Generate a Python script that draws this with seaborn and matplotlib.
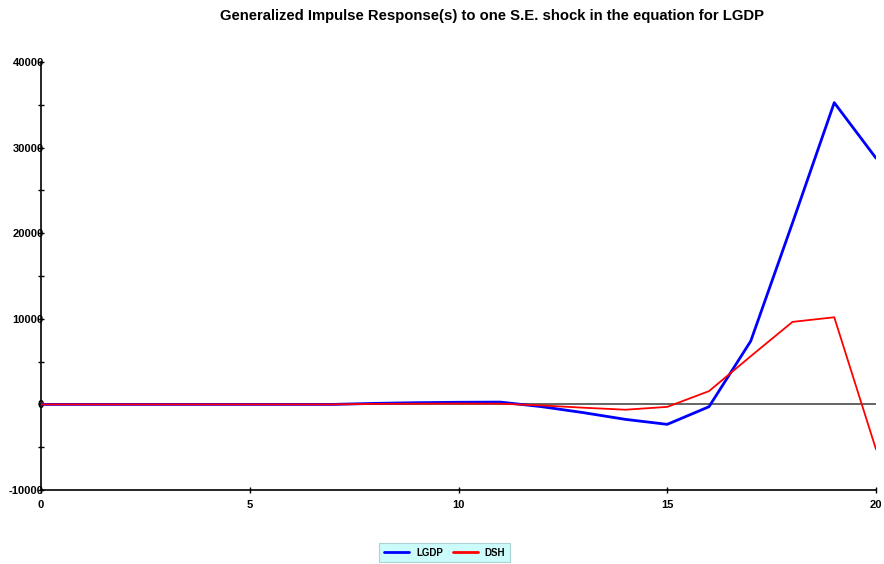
import numpy as np
import pandas as pd
import matplotlib
matplotlib.use("Agg")
import matplotlib.pyplot as plt
import seaborn as sns
from matplotlib.ticker import MultipleLocator

horizon = list(range(21))
lgdp = [0, 0, 0, 0, 0, 0, 0, 0, 120, 200, 250, 270, -270, -970, -1750, -2330,
        -270, 7400, 21200, 35250, 28770]
dsh = [0, 0, 0, 0, 0, 0, 0, 0, 60, 80, 100, 80, -120, -390, -620, -290,
       1550, 5630, 9640, 10180, -5250]
series_names = ["LGDP", "DSH"]
title = "Generalized Impulse Response(s) to one S.E. shock in the equation for LGDP"

df = pd.DataFrame({
    "Horizon": horizon * 2,
    "Value": lgdp + dsh,
    "Series": [series_names[0]] * len(horizon) + [series_names[1]] * len(horizon),
})

sns.set_style("white")
plt.rcParams['font.family'] = ['Liberation Sans', 'DejaVu Sans']
plt.rcParams['axes.unicode_minus'] = False
plt.rcParams['text.color'] = 'black'

fig = plt.figure(figsize=(8.84, 5.64), dpi=100)
ax = fig.add_axes([41 / 884, 1 - 490 / 564, (876 - 41) / 884, (490 - 62) / 564])

ax.axhline(0, color="#3a3a3a", lw=1.1, zorder=1)
sns.lineplot(data=df, x="Horizon", y="Value", hue="Series",
             palette={"LGDP": "#0000ff", "DSH": "#ff0000"}, ax=ax, zorder=3)
for line, lw in zip(ax.get_lines()[1:], [2.0, 1.3]):
    line.set_linewidth(lw)

ax.set_xlim(0, 20)
ax.set_ylim(-10000, 40000)
ax.xaxis.set_major_locator(MultipleLocator(5))
ax.yaxis.set_major_locator(MultipleLocator(10000))
ax.yaxis.set_minor_locator(MultipleLocator(5000))
ax.set_xlabel("")
ax.set_ylabel("")
for s in ["top", "right"]:
    ax.spines[s].set_visible(False)
for s in ["left", "bottom"]:
    ax.spines[s].set_color("black")
    ax.spines[s].set_linewidth(1.2)

ax.tick_params(axis="both", which="both", direction="inout", length=4, width=1,
               colors="black", labelsize=8)
ax.tick_params(axis="y", which="both", left=True, pad=-4)
ax.tick_params(axis="x", which="major", bottom=True, pad=5)
for lbl in ax.get_xticklabels() + ax.get_yticklabels():
    lbl.set_fontweight("bold")

fig.text(491.5 / 884, 1 - 16 / 564, title, ha="center", va="center",
         fontsize=10.7, fontweight="bold", color="black")

handles, labels = ax.get_legend_handles_labels()
ax.get_legend().remove()
leg = fig.legend(handles, labels, loc="center", bbox_to_anchor=(444.5 / 884, 1 - 552.5 / 564),
                 ncol=2, frameon=True, fancybox=False, shadow=False,
                 prop={"weight": "bold", "size": 7}, handlelength=2.6,
                 columnspacing=1.0, borderpad=0.5, handletextpad=0.7,
                 borderaxespad=0)
leg.get_frame().set_facecolor("#c0fafa")
leg.get_frame().set_edgecolor("#a0c8c8")
leg.get_frame().set_linewidth(0.8)
for h in leg.get_lines():
    h.set_linewidth(2.0)

fig.savefig("out.png", dpi=100)
